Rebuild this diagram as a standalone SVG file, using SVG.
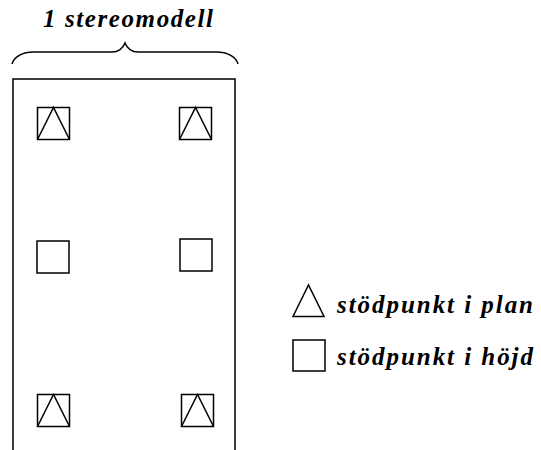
<svg xmlns="http://www.w3.org/2000/svg" width="541" height="450" viewBox="0 0 541 450">
  <style>
    .ln { fill: none; stroke: #000; stroke-width: 1.5; stroke-linejoin: miter; }
    .lbl { font-family: "Liberation Serif", "Times New Roman", serif; font-weight: bold; font-style: italic; font-size: 25px; fill: #000; }
  </style>
  <defs>
    <g id="plan-mark">
      <rect class="ln" x="0" y="0" width="32" height="32"/>
      <path class="ln" d="M0,32 L16,0 L32,32"/>
    </g>
    <rect id="height-mark" class="ln" x="0" y="0" width="32" height="32"/>
  </defs>
  <rect width="541" height="450" fill="#fff"/>

  <!-- brace and title -->
  <g id="title">
    <text class="lbl" x="43" y="27" textLength="170" lengthAdjust="spacing">1 stereomodell</text>
    <path class="ln" d="M12,64 C14,57 22,52 34,52 L112,52 C119,52 123,48 125,43 C127,48 131,52 138,52 L216,52 C228,52 236,57 238,64"/>
  </g>

  <!-- model frame, open at the bottom -->
  <g id="frame">
    <path class="ln" d="M13,450 L13,79 L235,79 L235,450"/>
  </g>

  <!-- control points -->
  <g id="p1"><use href="#plan-mark" x="37.5" y="107.5"/></g>
  <g id="p2"><use href="#plan-mark" x="179.5" y="107.5"/></g>
  <g id="p3"><use href="#height-mark" x="37" y="241"/></g>
  <g id="p4"><use href="#height-mark" x="180" y="239"/></g>
  <g id="p5"><use href="#plan-mark" x="37.5" y="394.5"/></g>
  <g id="p6"><use href="#plan-mark" x="181.5" y="394.5"/></g>

  <!-- legend -->
  <g id="legend-plan">
    <path class="ln" d="M293,316.5 L308.5,285 L324,316.5 Z"/>
    <text class="lbl" x="337" y="313" textLength="196" lengthAdjust="spacing">stödpunkt i plan</text>
  </g>
  <g id="legend-height">
    <rect class="ln" x="293" y="340" width="32" height="31"/>
    <text class="lbl" x="337" y="365" textLength="196" lengthAdjust="spacing">stödpunkt i höjd</text>
  </g>
</svg>
